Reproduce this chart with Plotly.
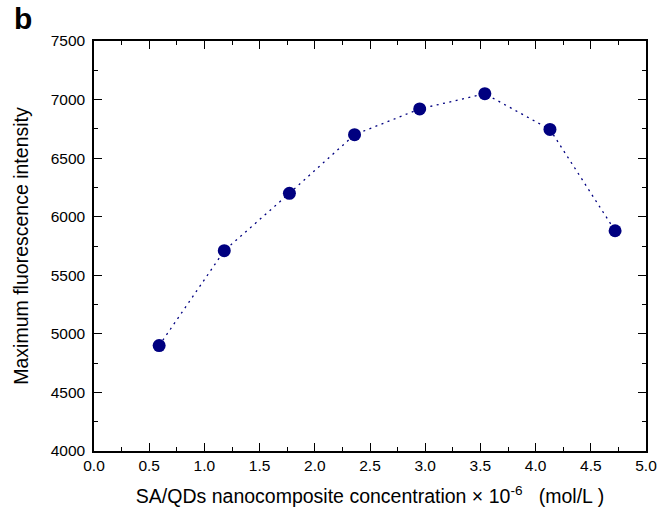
import plotly.graph_objects as go

conc = [0.59, 1.18, 1.77, 2.36, 2.95, 3.54, 4.13, 4.72]
intensity = [4900, 5710, 6200, 6700, 6920, 7050, 6745, 5880]
x_ticks = [0.0, 0.5, 1.0, 1.5, 2.0, 2.5, 3.0, 3.5, 4.0, 4.5, 5.0]
y_ticks = [4000, 4500, 5000, 5500, 6000, 6500, 7000, 7500]

fig = go.Figure()
fig.add_trace(go.Scatter(
    x=conc, y=intensity, mode="lines+markers",
    line=dict(color="#000080", width=1.3, dash="2px,4.5px"),
    marker=dict(color="#000080", size=13),
    showlegend=False,
))

font = "Liberation Sans, Arial, sans-serif"
axis_common = dict(
    showline=True, linecolor="black", linewidth=1.5, mirror="allticks",
    ticks="inside", ticklen=8, tickwidth=1.2, tickcolor="black",
    showgrid=False, zeroline=False,
    tickfont=dict(family=font, size=15.5, color="black"),
)
fig.update_xaxes(
    range=[0, 5], tickvals=x_ticks, ticktext=[f"{v:.1f}" for v in x_ticks],
    minor=dict(ticks="inside", ticklen=4, dtick=0.25, tickcolor="black", tickwidth=1.2),
    title=dict(text="SA/QDs nanocomposite concentration × 10<sup>-6</sup>&nbsp;&nbsp;&nbsp;(mol/L )",
               font=dict(family=font, size=19.5, color="black"), standoff=16),
    **axis_common,
)
fig.update_yaxes(
    range=[4000, 7500], tickvals=y_ticks, ticktext=[str(v) for v in y_ticks],
    ticklabelstandoff=4,
    minor=dict(ticks="inside", ticklen=4, dtick=250, tickcolor="black", tickwidth=1.2),
    title=dict(text="Maximum fluorescence intensity",
               font=dict(family=font, size=19.5, color="black"), standoff=17),
    **axis_common,
)
fig.add_annotation(text="<b>b</b>", xref="paper", yref="paper", x=-0.148, y=1.1,
                   xanchor="left", yanchor="top", showarrow=False,
                   font=dict(family=font, size=30, color="black"))
fig.update_layout(
    width=672, height=520,
    margin=dict(l=94, r=26, t=41, b=69),
    plot_bgcolor="white", paper_bgcolor="white",
)
fig.write_html("out.html")
